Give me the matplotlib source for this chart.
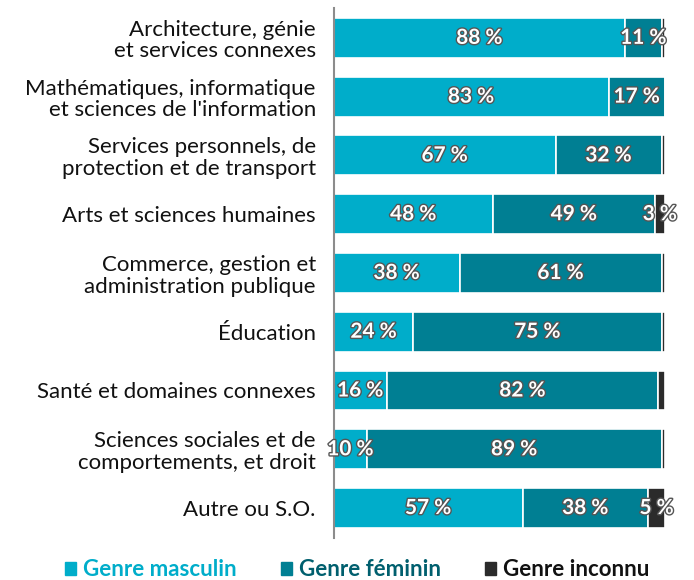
import numpy as np
import matplotlib
matplotlib.use("Agg")
import matplotlib.pyplot as plt
import matplotlib.patheffects as pe
from matplotlib.patches import Rectangle

plt.rcParams['font.family'] = ['Lato', 'DejaVu Sans']

categories = [
    "Architecture, génie\net services connexes",
    "Mathématiques, informatique\net sciences de l'information",
    "Services personnels, de\nprotection et de transport",
    "Arts et sciences humaines",
    "Commerce, gestion et\nadministration publique",
    "Éducation",
    "Santé et domaines connexes",
    "Sciences sociales et de\ncomportements, et droit",
    "Autre ou S.O.",
]
masculin = [88, 83, 67, 48, 38, 24, 16, 10, 57]
feminin = [11, 17, 32, 49, 61, 75, 82, 89, 38]
inconnu = [1, 0, 1, 3, 1, 1, 2, 1, 5]
series_names = ["Genre masculin", "Genre féminin", "Genre inconnu"]

colors = ['#00ADCA', '#007F93', '#2B2B2B']
legend_text_colors = ['#00ADCA', '#005F6E', '#111111']

fig = plt.figure(figsize=(6.94, 5.80), dpi=100)
ax = fig.add_axes([0.481, 0.0724, 0.477, 0.914])

y = np.arange(len(categories))
left = np.zeros(len(categories))
shadow = [pe.withStroke(linewidth=2.0, foreground='#555555')]

for vals, color in zip([masculin, feminin, inconnu], colors):
    vals = np.array(vals, dtype=float)
    ax.barh(y, vals, left=left, height=0.68, color=color,
            edgecolor='white', linewidth=1.2)
    for yi, l, v in zip(y, left, vals):
        if v >= 3:
            ax.text(l + v / 2, yi, f"{v:.0f} %", ha='center', va='center',
                    color='white', fontsize=15, fontweight='bold',
                    path_effects=shadow, zorder=5)
    left += vals

ax.set_xlim(0, 100)
ax.set_ylim(len(categories) - 0.49, -0.51)
ax.set_yticks(y)
ax.set_yticklabels(categories, fontsize=16, color='#111111', linespacing=1.1)
ax.tick_params(axis='y', length=0, pad=13)
ax.set_xticks([])
for side in ['top', 'right', 'bottom']:
    ax.spines[side].set_visible(False)
ax.spines['left'].set_color('#8c8c8c')
ax.spines['left'].set_linewidth(1.5)

# legend
handles = [Rectangle((0, 0), 1, 1, color=c) for c in colors]
leg = fig.legend(handles, series_names, loc='center', bbox_to_anchor=(0.515, 0.018),
                 ncol=3, frameon=False, handlelength=0.5, handleheight=0.5,
                 handletextpad=0.3, columnspacing=2.0,
                 prop={'size': 16, 'weight': 'bold'})
for txt, c in zip(leg.get_texts(), legend_text_colors):
    txt.set_color(c)

fig.savefig('out.png', dpi=100)
